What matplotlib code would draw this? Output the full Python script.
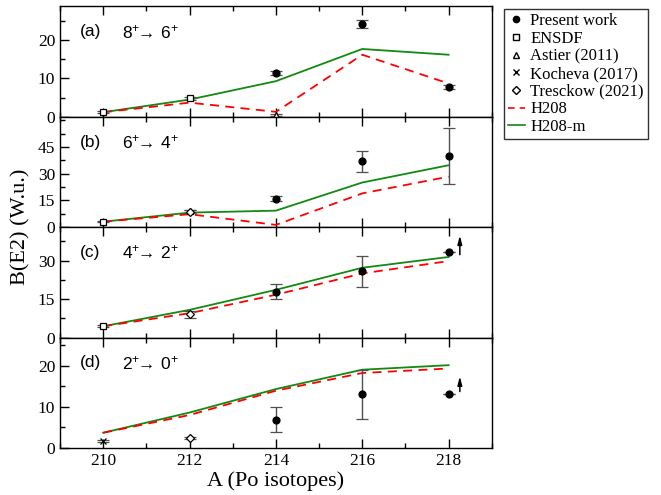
import matplotlib
matplotlib.use('Agg')
import matplotlib.pyplot as plt
from matplotlib.lines import Line2D
from matplotlib.ticker import MultipleLocator, FixedLocator

plt.rcParams['font.family'] = ['Liberation Serif', 'DejaVu Serif']

A = [210, 212, 214, 216, 218]

# (a) 8+ -> 6+
a_h208 = [1.2, 3.7, 1.3, 16.2, 8.7]
a_h208m = [1.2, 4.5, 9.3, 17.7, 16.2]
a_pw_A = [214, 216, 218]
a_pw = [11.4, 24.3, 7.8]
a_pw_err = [0.5, 1.0, 0.5]
a_ensdf_A = [210, 212]
a_ensdf = [1.2, 4.8]
a_ensdf_err = [0.3, 0.4]
a_astier_A = [214]
a_astier = [0.5]
a_astier_err = [0.2]

# (b) 6+ -> 4+
b_h208 = [3.1, 7.3, 1.3, 19.0, 28.4]
b_h208m = [3.1, 8.2, 9.3, 25.1, 34.8]
b_pw_A = [214, 216, 218]
b_pw = [16.0, 37.0, 40.0]
b_pw_err = [1.3, 6.0, 15.8]
b_ensdf_A = [210]
b_ensdf = [3.1]
b_ensdf_err = [0.3]
b_astier_A = [212]
b_astier = [9.0]
b_astier_err = [0.8]
b_tres_A = [212]
b_tres = [8.6]
b_tres_err = [0.8]

# (c) 4+ -> 2+
c_h208 = [4.4, 9.5, 16.7, 25.0, 29.8]
c_h208m = [4.4, 10.8, 18.6, 27.2, 31.4]
c_pw_A = [214, 216, 218]
c_pw = [17.8, 25.9, 33.2]
c_pw_err = [2.9, 6.0, 0.0]
c_ensdf_A = [210]
c_ensdf = [4.4]
c_ensdf_err = [0.4]
c_tres_A = [212]
c_tres = [9.0]
c_tres_err = [1.3]
c_arrow = [218.26, 32.3, 39.8]

# (d) 2+ -> 0+
d_h208 = [3.7, 8.0, 13.9, 18.2, 19.3]
d_h208m = [3.7, 8.6, 14.3, 19.0, 20.1]
d_pw_A = [214, 216, 218]
d_pw = [6.9, 13.0, 13.0]
d_pw_err = [3.0, 6.0, 0.0]
d_koch_A = [210]
d_koch = [1.7]
d_koch_err = [0.3]
d_tres_A = [212]
d_tres = [2.4]
d_tres_err = [0.3]
d_arrow = [218.26, 13.7, 17.4]

labels = ['(a)', '(b)', '(c)', '(d)']
transitions = [r'$\mathregular{8^{+}\!\!\rightarrow\,6^{+}}$',
               r'$\mathregular{6^{+}\!\!\rightarrow\,4^{+}}$',
               r'$\mathregular{4^{+}\!\!\rightarrow\,2^{+}}$',
               r'$\mathregular{2^{+}\!\!\rightarrow\,0^{+}}$']
ylims = [28.8, 62, 43, 26.8]
yticks = [[0, 10, 20], [0, 15, 30, 45], [0, 15, 30], [0, 10, 20]]
yminor = [5, 7.5, 7.5, 5]

RED = '#ff0000'
GREEN = '#108a10'
ECOL = '#505050'

fig = plt.figure(figsize=(6.61, 4.95), dpi=100)
left, right, bottom, top = 0.0908, 0.744, 0.095, 0.987
h = (top - bottom) / 4
axes = [fig.add_axes([left, top - (i + 1) * h, right - left, h]) for i in range(4)]


def pts(ax, xs, ys, err, marker, fill, ms=5):
    ax.errorbar(xs, ys, yerr=err, fmt=marker, ms=ms, mfc=fill, mec='black',
                mew=0.9, ecolor=ECOL, elinewidth=1.0, capsize=4, capthick=1.0,
                zorder=5)


def theory(ax, h208, h208m):
    ax.plot(A, h208m, color=GREEN, lw=1.3, zorder=3)
    ax.plot(A, h208, color=RED, lw=1.3, ls=(0, (5, 3.5)), zorder=4)


theory(axes[0], a_h208, a_h208m)
pts(axes[0], a_ensdf_A, a_ensdf, a_ensdf_err, 's', 'white')
pts(axes[0], a_astier_A, a_astier, a_astier_err, '^', 'white')
pts(axes[0], a_pw_A, a_pw, a_pw_err, 'o', 'black')

theory(axes[1], b_h208, b_h208m)
pts(axes[1], b_ensdf_A, b_ensdf, b_ensdf_err, 's', 'white')
pts(axes[1], b_astier_A, b_astier, b_astier_err, '^', 'white')
pts(axes[1], b_tres_A, b_tres, b_tres_err, 'D', 'white', ms=4.5)
pts(axes[1], b_pw_A, b_pw, b_pw_err, 'o', 'black')

theory(axes[2], c_h208, c_h208m)
pts(axes[2], c_ensdf_A, c_ensdf, c_ensdf_err, 's', 'white')
pts(axes[2], c_tres_A, c_tres, c_tres_err, 'D', 'white', ms=4.5)
pts(axes[2], c_pw_A, c_pw, c_pw_err, 'o', 'black')

theory(axes[3], d_h208, d_h208m)
pts(axes[3], d_koch_A, d_koch, d_koch_err, 'x', 'none')
pts(axes[3], d_tres_A, d_tres, d_tres_err, 'D', 'white', ms=4.5)
pts(axes[3], d_pw_A, d_pw, d_pw_err, 'o', 'black')

for ax, arr in [(axes[2], c_arrow), (axes[3], d_arrow)]:
    ax.annotate('', xy=(arr[0], arr[2]), xytext=(arr[0], arr[1]),
                arrowprops=dict(arrowstyle='-|>,head_length=0.5,head_width=0.13',
                                color='black', lw=1.1, shrinkA=0, shrinkB=0))

for i, ax in enumerate(axes):
    ax.set_xlim(209, 219)
    ax.set_ylim(0, ylims[i])
    ax.xaxis.set_major_locator(MultipleLocator(2))
    ax.xaxis.set_minor_locator(MultipleLocator(1))
    ax.yaxis.set_major_locator(FixedLocator(yticks[i]))
    ax.yaxis.set_minor_locator(MultipleLocator(yminor[i]))
    ax.tick_params(which='both', direction='in', top=True, right=False,
                   labelsize=12.5, width=1.0, colors='black')
    ax.tick_params(which='major', length=6.5)
    ax.tick_params(which='minor', length=3.5)
    for s in ax.spines.values():
        s.set_linewidth(1.0)
    if i < 3:
        ax.tick_params(labelbottom=False)
    ax.text(0.046, 0.77, labels[i], transform=ax.transAxes, fontsize=12.5,
            fontfamily='Liberation Sans', va='center', ha='left')
    ax.text(0.143, 0.77, transitions[i], transform=ax.transAxes, fontsize=12.5,
            fontfamily='Liberation Sans', va='center', ha='left')

axes[3].set_xlabel('A (Po isotopes)', fontsize=16, labelpad=2)
fig.text(0.032, (top + bottom) / 2, 'B(E2) (W.u.)', rotation=90, fontsize=16,
         va='center', ha='center')

handles = [
    Line2D([], [], ls='none', marker='o', ms=4.5, mfc='black', mec='black'),
    Line2D([], [], ls='none', marker='s', ms=4.5, mfc='white', mec='black'),
    Line2D([], [], ls='none', marker='^', ms=4.5, mfc='white', mec='black'),
    Line2D([], [], ls='none', marker='x', ms=4.5, mec='black'),
    Line2D([], [], ls='none', marker='D', ms=4, mfc='white', mec='black'),
    Line2D([], [], color=RED, lw=1.2, ls=(0, (4, 3))),
    Line2D([], [], color=GREEN, lw=1.2),
]
names = ['Present work', 'ENSDF', 'Astier (2011)', 'Kocheva (2017)',
         'Tresckow (2021)', 'H208', 'H208-m']
leg = fig.legend(handles, names, loc='upper left', bbox_to_anchor=(0.762, 0.982),
                 fontsize=12, frameon=True, fancybox=False, handlelength=1.0,
                 handletextpad=0.35, labelspacing=0.1, borderpad=0.25,
                 borderaxespad=0)
leg.get_frame().set_edgecolor('black')
leg.get_frame().set_linewidth(1.0)

fig.savefig('out.png', dpi=100)
